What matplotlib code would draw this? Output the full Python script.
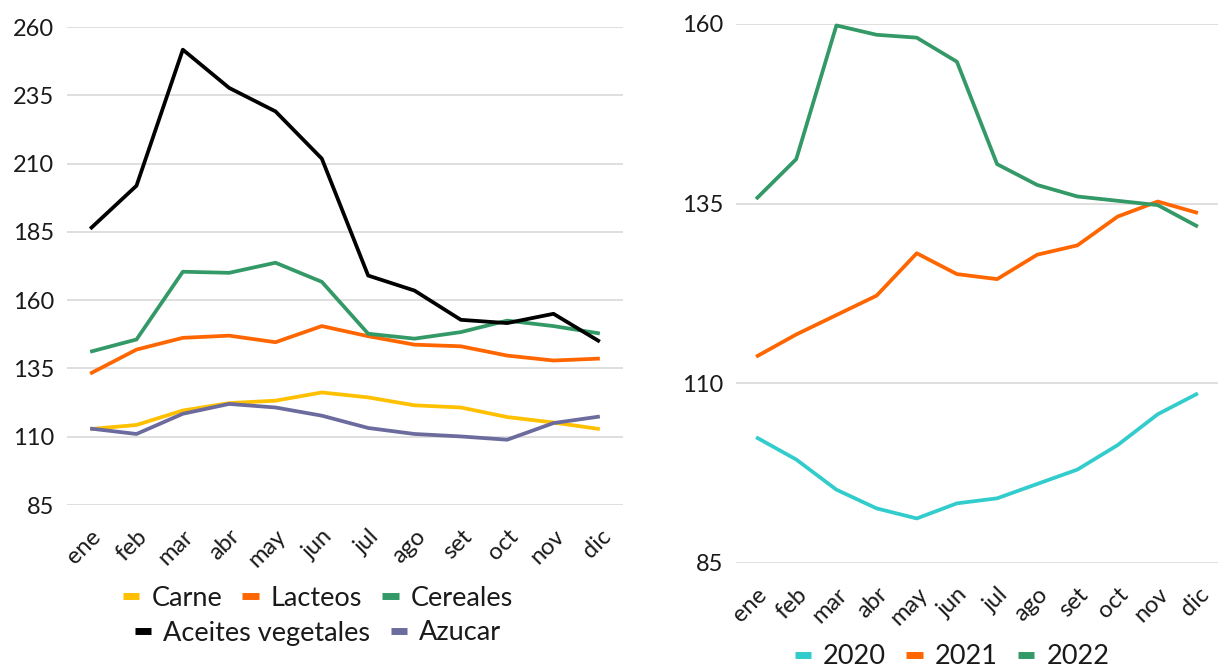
import matplotlib
matplotlib.use("Agg")
import matplotlib.pyplot as plt
from matplotlib.lines import Line2D

plt.rcParams['font.family'] = ['Lato', 'DejaVu Sans']

months = ["ene", "feb", "mar", "abr", "may", "jun", "jul", "ago", "set", "oct", "nov", "dic"]

# Left panel: food price indices by group
carne = [112.8, 114.3, 119.6, 122.3, 123.2, 126.2, 124.4, 121.5, 120.7, 117.2, 115.2, 112.8]
lacteos = [133.1, 141.9, 146.2, 147.0, 144.6, 150.5, 146.8, 143.7, 143.1, 139.7, 137.9, 138.6]
cereales = [141.1, 145.6, 170.4, 170.0, 173.7, 166.7, 147.7, 145.9, 148.3, 152.5, 150.5, 147.8]
aceites = [186.1, 201.9, 251.7, 237.7, 229.1, 211.8, 169.0, 163.5, 152.8, 151.6, 155.0, 144.8]
azucar = [113.0, 111.0, 118.4, 122.0, 120.7, 117.7, 113.2, 111.0, 110.1, 108.9, 115.0, 117.4]

# Right panel: overall index by year
y2020 = [102.5, 99.4, 95.2, 92.6, 91.2, 93.3, 94.0, 96.0, 98.0, 101.4, 105.7, 108.6]
y2021 = [113.7, 116.8, 119.5, 122.2, 128.1, 125.2, 124.5, 127.9, 129.2, 133.2, 135.3, 133.7]
y2022 = [135.65, 141.2, 159.8, 158.5, 158.1, 154.75, 140.5, 137.6, 136.0, 135.4, 134.8, 131.8]

left_series = [("Carne", carne, "#FFC000"), ("Lacteos", lacteos, "#FF6600"),
               ("Cereales", cereales, "#339966"), ("Aceites vegetales", aceites, "#000000"),
               ("Azucar", azucar, "#6B6B9E")]
right_series = [("2020", y2020, "#33CCCC"), ("2021", y2021, "#FF6600"), ("2022", y2022, "#339966")]

W, H = 1218, 671
fig = plt.figure(figsize=(W / 100, H / 100), dpi=100)

def px_axes(x0, x1, ytop, ybot):
    return fig.add_axes([x0 / W, 1 - ybot / H, (x1 - x0) / W, (ybot - ytop) / H])

def style(ax, ymin, ymax, step):
    ax.set_xlim(-0.5, 11.5)
    ax.set_ylim(ymin, ymax)
    ax.set_yticks(list(range(ymin, ymax + 1, step)))
    ax.grid(axis='y', color='#D9D9D9', lw=1.2)
    ax.set_axisbelow(True)
    for s in ax.spines.values():
        s.set_visible(False)
    ax.tick_params(axis='both', length=0, labelsize=17, colors='#1a1a1a')
    ax.tick_params(axis='y', pad=9)
    ax.tick_params(axis='x', pad=15)
    ax.set_xticks(range(12))
    ax.set_xticklabels(months, rotation=45, ha='right', va='top', rotation_mode='anchor')
    for lab in ax.get_xticklabels():
        lab.set_fontsize(17)

axL = px_axes(67, 623, 27, 505)
style(axL, 85, 260, 25)
for name, vals, c in left_series:
    axL.plot(range(12), vals, color=c, lw=2.7, label=name, clip_on=False, solid_capstyle='butt')

axR = px_axes(736, 1218, 24, 563)
style(axR, 85, 160, 25)
for name, vals, c in right_series:
    axR.plot(range(12), vals, color=c, lw=2.7, label=name, clip_on=False, solid_capstyle='butt')

def handles(series):
    return [Line2D([], [], color=c, lw=5, solid_capstyle='butt') for _, _, c in series]

leg_kw = dict(frameon=False, fontsize=19.5, handlelength=0.6, handletextpad=0.45,
              columnspacing=0.75, loc='center', labelcolor='#1a1a1a')
h = handles(left_series)
fig.legend(h[:3], [s[0] for s in left_series[:3]], ncol=3,
           bbox_to_anchor=(318 / W, 1 - 598 / H), **leg_kw)
fig.legend(h[3:], [s[0] for s in left_series[3:]], ncol=2,
           bbox_to_anchor=(318 / W, 1 - 633 / H), **leg_kw)
fig.legend(handles(right_series), [s[0] for s in right_series], ncol=3,
           bbox_to_anchor=(952 / W, 1 - 657 / H), **leg_kw)

fig.savefig("out.png", dpi=100)
